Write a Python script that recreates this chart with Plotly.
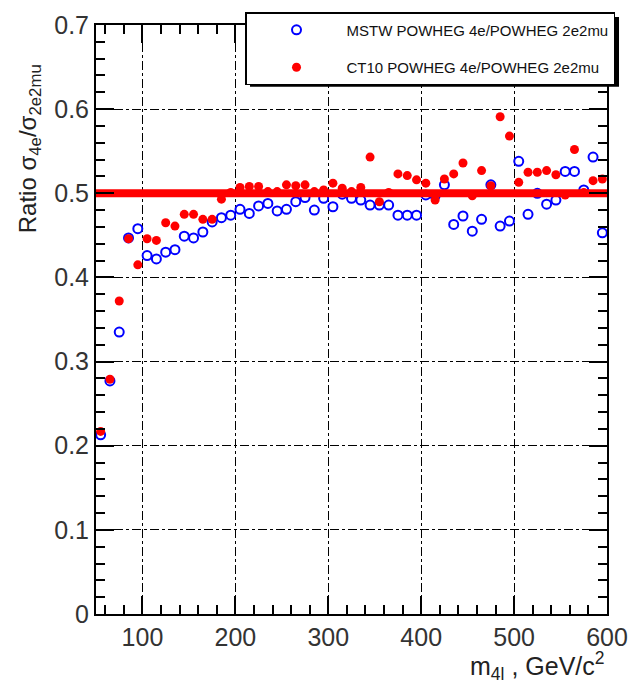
import plotly.graph_objects as go

# Four-lepton invariant mass bin centres (GeV/c^2)
mass = [55, 65, 75, 85, 95, 105, 115, 125, 135, 145,
        155, 165, 175, 185, 195, 205, 215, 225, 235, 245,
        255, 265, 275, 285, 295, 305, 315, 325, 335, 345,
        355, 365, 375, 385, 395, 405, 415, 425, 435, 445,
        455, 465, 475, 485, 495, 505, 515, 525, 535, 545,
        555, 565, 575, 585, 595]

# Ratio sigma(4e)/sigma(2e2mu), MSTW PDF set
ratio_mstw = [0.213, 0.277, 0.335, 0.447, 0.458, 0.426, 0.422, 0.430, 0.433, 0.449,
              0.447, 0.454, 0.466, 0.471, 0.474, 0.481, 0.476, 0.485, 0.488, 0.479,
              0.481, 0.490, 0.495, 0.480, 0.494, 0.484, 0.499, 0.494, 0.492, 0.486,
              0.486, 0.486, 0.474, 0.474, 0.474, 0.498, 0.497, 0.510, 0.463, 0.473,
              0.455, 0.469, 0.510, 0.461, 0.467, 0.538, 0.475, 0.500, 0.487, 0.492,
              0.526, 0.526, 0.504, 0.543, 0.453]

# Ratio sigma(4e)/sigma(2e2mu), CT10 PDF set
ratio_ct10 = [0.217, 0.279, 0.372, 0.446, 0.415, 0.446, 0.444, 0.465, 0.461, 0.475,
              0.475, 0.469, 0.469, 0.493, 0.501, 0.507, 0.508, 0.508, 0.502, 0.502,
              0.510, 0.509, 0.510, 0.502, 0.504, 0.512, 0.506, 0.502, 0.507, 0.543,
              0.490, 0.501, 0.523, 0.521, 0.516, 0.512, 0.492, 0.517, 0.523, 0.536,
              0.497, 0.527, 0.509, 0.591, 0.568, 0.513, 0.525, 0.525, 0.527, 0.522,
              0.498, 0.552, 0.501, 0.515, 0.517]

# Naive expectation for the ratio, drawn across the full mass window
expected_ratio = 0.5
mass_window = [50, 600]

x_ticks = [100, 200, 300, 400, 500, 600]
y_ticks = [0, 0.1, 0.2, 0.3, 0.4, 0.5, 0.6, 0.7]

FONT = "Liberation Sans, Arial, Helvetica, sans-serif"

fig = go.Figure()

fig.add_trace(go.Scatter(
    x=mass, y=ratio_mstw, mode="markers",
    name="MSTW POWHEG 4e/POWHEG 2e2mu", legendgroup="mstw",
    marker=dict(symbol="circle-open", size=9, color="#0000ff",
                line=dict(width=2, color="#0000ff")),
))
fig.add_trace(go.Scatter(
    x=mass, y=ratio_ct10, mode="markers",
    name="CT10 POWHEG 4e/POWHEG 2e2mu", legendgroup="ct10",
    marker=dict(symbol="circle", size=9, color="#ff0000"),
))
fig.add_trace(go.Scatter(
    x=mass_window, y=[expected_ratio, expected_ratio], mode="lines",
    line=dict(color="#ff0000", width=8), showlegend=False, hoverinfo="skip",
))

axis_common = dict(
    showline=True, linecolor="black", linewidth=2, mirror="allticks",
    ticks="inside", ticklen=18, tickwidth=1.5, tickcolor="black",
    showgrid=True, gridcolor="black", gridwidth=1, griddash="dashdot",
    zeroline=False, ticklabeloverflow="allow", automargin=False,
)

fig.update_xaxes(
    range=mass_window, tickvals=x_ticks, ticktext=[str(v) for v in x_ticks],
    tickfont=dict(family=FONT, size=25, color="#333333"),
    minor=dict(dtick=20, tick0=0, ticks="inside", ticklen=9, tickwidth=1.5,
               tickcolor="black", showgrid=False),
    **axis_common,
)
fig.update_yaxes(
    range=[0, 0.7], tickvals=y_ticks, ticktext=[f"{v:g}" for v in y_ticks],
    tickfont=dict(family=FONT, size=25, color="#333333"),
    minor=dict(dtick=0.02, tick0=0, ticks="inside", ticklen=9, tickwidth=1.5,
               tickcolor="black", showgrid=False),
    **axis_common,
)

# Legend drop shadow
fig.add_shape(type="rect", xref="paper", yref="paper",
              x0=0.3014, x1=1.0235, y0=0.8953, y1=1.0135,
              fillcolor="black", line=dict(width=0), layer="above")

fig.update_layout(
    width=628, height=685,
    margin=dict(l=96, r=21, t=22, b=71),
    paper_bgcolor="white", plot_bgcolor="white",
    font=dict(family=FONT, color="black"),
    legend=dict(
        x=0.2916, y=1.022, xanchor="left", yanchor="top",
        bgcolor="white", bordercolor="black", borderwidth=1.5,
        font=dict(family=FONT, size=15, color="#111111"),
        itemwidth=90, tracegroupgap=15,
    ),
    annotations=[
        dict(text="Ratio σ<sub>4e</sub>/σ<sub>2e2mu</sub>", xref="paper", yref="paper",
             x=-0.13, y=0.79, xanchor="center", yanchor="middle", textangle=-90,
             showarrow=False, font=dict(family=FONT, size=24, color="#222222")),
        dict(text="m<sub>4l</sub> , GeV/c<sup>2</sup>", xref="paper", yref="paper",
             x=1.0, y=-0.089, xanchor="right", yanchor="middle",
             showarrow=False, font=dict(family=FONT, size=25, color="#222222")),
    ],
)

fig.write_html("out.html")
